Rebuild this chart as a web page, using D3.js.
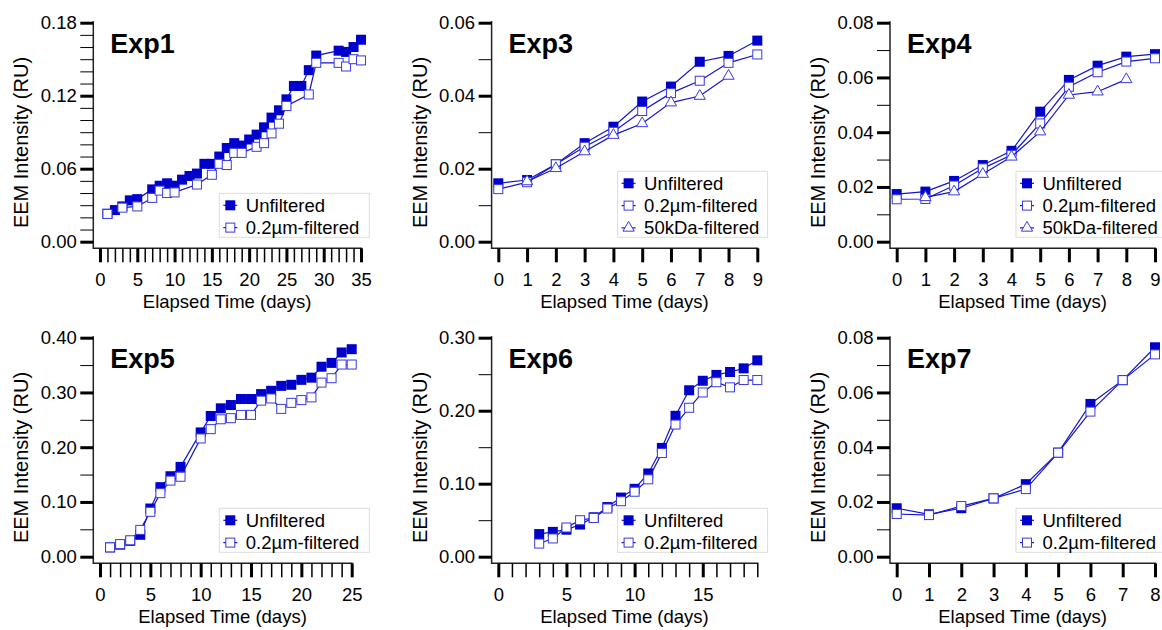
<!DOCTYPE html>
<html><head><meta charset="utf-8">
<script src="https://cdn.jsdelivr.net/npm/d3@7"></script>
<style>
body{margin:0;background:#fff}
svg text{font-family:"Liberation Sans",Arial,sans-serif;fill:#000}
</style></head><body>
<svg id="c" width="1162" height="630"></svg>
<script>
// ---------------- DATA ----------------
const exp1UnfDays = [1,2,3,4,5,7,8,9,10,11,12,13,14,15,16,17,18,19,20,21,22,23,24,25,26,27,28,29,32,33,34,35];
const exp1UnfVals = [0.023,0.026,0.029,0.034,0.035,0.043,0.046,0.048,0.046,0.051,0.054,0.056,0.064,0.064,0.070,0.077,0.081,0.079,0.084,0.088,0.094,0.102,0.108,0.117,0.128,0.128,0.141,0.153,0.157,0.156,0.160,0.166];
const exp1FilDays = [1,3,5,7,8,9,10,13,15,16,17,18,19,21,22,23,24,25,28,29,32,33,34,35];
const exp1FilVals = [0.0228,0.028,0.029,0.036,0.042,0.040,0.0405,0.047,0.055,0.064,0.063,0.073,0.073,0.078,0.081,0.089,0.097,0.1115,0.121,0.147,0.147,0.144,0.150,0.149];

const exp3Days = [0,1,2,3,4,5,6,7,8,9];
const exp3Unf = [0.016,0.0169,0.0212,0.027,0.0315,0.0384,0.0425,0.0493,0.0509,0.0551];
const exp3Fil = [0.0144,0.0163,0.0212,0.026,0.0301,0.0358,0.0407,0.0441,0.049,0.0513];
const exp3KdaDays = [1,2,3,4,5,6,7,8];
const exp3Kda = [0.0165,0.0201,0.0247,0.0292,0.0324,0.0381,0.0399,0.0454];

const exp4Days = [0,1,2,3,4,5,6,7,8,9];
const exp4Unf = [0.0174,0.0183,0.0222,0.028,0.0332,0.0475,0.0591,0.0643,0.0676,0.0685];
const exp4Fil = [0.0155,0.0156,0.0205,0.0268,0.0317,0.0432,0.0566,0.0619,0.0658,0.067];
const exp4KdaDays = [1,2,3,4,5,6,7,8];
const exp4Kda = [0.0162,0.0183,0.0247,0.031,0.0402,0.0536,0.0548,0.0593];

const exp5Days = [1,2,3,4,5,6,7,8,10,11,12,13,14,15,16,17,18,19,20,21,22,23,24,25];
const exp5Unf = [0.017,0.022,0.029,0.040,0.088,0.127,0.147,0.164,0.227,0.257,0.271,0.277,0.288,0.288,0.297,0.303,0.312,0.314,0.323,0.327,0.347,0.354,0.373,0.379];
const exp5Fil = [0.017,0.023,0.030,0.049,0.082,0.116,0.139,0.146,0.216,0.233,0.251,0.253,0.259,0.259,0.285,0.289,0.270,0.281,0.286,0.291,0.318,0.326,0.351,0.351];

const exp6Days = [3,4,5,6,7,8,9,10,11,12,13,14,15,16,17,18,19];
const exp6Unf = [0.031,0.034,0.037,0.044,0.054,0.068,0.081,0.093,0.114,0.149,0.193,0.228,0.241,0.249,0.253,0.258,0.269];
const exp6Fil = [0.018,0.025,0.040,0.050,0.053,0.066,0.076,0.089,0.106,0.142,0.181,0.204,0.225,0.239,0.232,0.242,0.242];

const exp7Days = [0,1,2,3,4,5,6,7,8];
const exp7Unf = [0.0177,0.0155,0.0177,0.0213,0.0265,0.038,0.0558,0.0645,0.0765];
const exp7Fil = [0.0156,0.0152,0.0185,0.0213,0.0247,0.038,0.053,0.0645,0.0739];

// tick labels
const exp1XTicks = [0,5,10,15,20,25,30,35];
const exp1YTicks = [0,0.06,0.12,0.18];
const exp3XTicks = [0,1,2,3,4,5,6,7,8,9];
const exp3YTicks = [0,0.02,0.04,0.06];
const exp4XTicks = [0,1,2,3,4,5,6,7,8,9];
const exp4YTicks = [0,0.02,0.04,0.06,0.08];
const exp5XTicks = [0,5,10,15,20,25];
const exp5YTicks = [0,0.10,0.20,0.30,0.40];
const exp6XTicks = [0,5,10,15];
const exp6YTicks = [0,0.10,0.20,0.30];
const exp7XTicks = [0,1,2,3,4,5,6,7,8];
const exp7YTicks = [0,0.02,0.04,0.06,0.08];

const titles = ["Exp1","Exp3","Exp4","Exp5","Exp6","Exp7"];
const seriesNames = ["Unfiltered","0.2\u00b5m-filtered","50kDa-filtered"];
const xLabel = "Elapsed Time (days)";
const yLabel = "EEM Intensity (RU)";

// ---------------- BUILD ----------------
const zip = (d, v) => d.map((x,i)=>({x, y:v[i]}));
const panels = [
  {title:titles[0], xMax:35, yMax:0.18, xTicks:exp1XTicks, yTicks:exp1YTicks, xMinor:1, yMinor:0.01,
   series:[{kind:0,data:zip(exp1UnfDays,exp1UnfVals)},{kind:1,data:zip(exp1FilDays,exp1FilVals)}]},
  {title:titles[1], xMax:9, yMax:0.06, xTicks:exp3XTicks, yTicks:exp3YTicks, xMinor:null, yMinor:0.01,
   series:[{kind:0,data:zip(exp3Days,exp3Unf)},{kind:1,data:zip(exp3Days,exp3Fil)},{kind:2,data:zip(exp3KdaDays,exp3Kda)}]},
  {title:titles[2], xMax:9, yMax:0.08, xTicks:exp4XTicks, yTicks:exp4YTicks, xMinor:null, yMinor:0.01,
   series:[{kind:0,data:zip(exp4Days,exp4Unf)},{kind:1,data:zip(exp4Days,exp4Fil)},{kind:2,data:zip(exp4KdaDays,exp4Kda)}]},
  {title:titles[3], xMax:25, yMax:0.40, xTicks:exp5XTicks, yTicks:exp5YTicks, xMinor:1, yMinor:0.05,
   series:[{kind:0,data:zip(exp5Days,exp5Unf)},{kind:1,data:zip(exp5Days,exp5Fil)}]},
  {title:titles[4], xMax:19, yMax:0.30, xTicks:exp6XTicks, yTicks:exp6YTicks, xMinor:1, yMinor:0.05,
   series:[{kind:0,data:zip(exp6Days,exp6Unf)},{kind:1,data:zip(exp6Days,exp6Fil)}]},
  {title:titles[5], xMax:8, yMax:0.08, xTicks:exp7XTicks, yTicks:exp7YTicks, xMinor:null, yMinor:0.01,
   series:[{kind:0,data:zip(exp7Days,exp7Unf)},{kind:1,data:zip(exp7Days,exp7Fil)}]}
];

// layout
const colX0 = [100, 498.3, 896.7];
const xEnds = [361, 757.3, 1155, 351.7, 757.3, 1155];
const rowY0 = [241.7, 556.7];
const plotH = 219;
const FILL = "#0000cc", LINE = "#1414cc", OPEN = "#3a3ae0";

const svg = d3.select("#c");

panels.forEach((p, i) => {
  const col = i % 3, row = Math.floor(i / 3);
  const x0 = colX0[col], y0 = rowY0[row];
  const x = d3.scaleLinear().domain([0, p.xMax]).range([x0, xEnds[i]]);
  const y = d3.scaleLinear().domain([0, p.yMax]).range([y0, y0 - plotH]);
  const axX = x0 - 6.7, axY = y0 + 6.6;
  const g = svg.append("g");

  // axis lines
  g.append("line").attr("x1", axX).attr("x2", axX).attr("y1", y(p.yMax) - 1.5).attr("y2", axY + 0.7)
    .attr("stroke", "#222").attr("stroke-width", 1.5);
  g.append("line").attr("x1", axX).attr("x2", xEnds[i] + 1).attr("y1", axY).attr("y2", axY)
    .attr("stroke", "#222").attr("stroke-width", 1.5);

  // y minor ticks
  const yMinorVals = d3.range(0, p.yMax + 1e-9, p.yMinor).filter(v => !p.yTicks.some(t => Math.abs(t - v) < 1e-9));
  const gyMin = g.append("g").attr("transform", `translate(${axX},0)`)
    .call(d3.axisLeft(y).tickValues(yMinorVals).tickSize(13).tickFormat(""));
  gyMin.select(".domain").remove();
  gyMin.selectAll(".tick line").attr("stroke", "#000").attr("stroke-width", 1);

  // y major ticks
  const gy = g.append("g").attr("transform", `translate(${axX},0)`)
    .call(d3.axisLeft(y).tickValues(p.yTicks).tickSize(13).tickPadding(3.5).tickFormat(d3.format(".2f")));
  gy.select(".domain").remove();
  gy.selectAll(".tick line").attr("stroke", "#000").attr("stroke-width", 3);
  gy.selectAll(".tick text").attr("font-size", 18.5).attr("fill", "#000");

  // x minor ticks
  if (p.xMinor) {
    const xMinorVals = d3.range(0, p.xMax + 1e-9, p.xMinor).filter(v => !p.xTicks.includes(v));
    const gxMin = g.append("g").attr("transform", `translate(0,${axY})`)
      .call(d3.axisBottom(x).tickValues(xMinorVals).tickSize(14).tickFormat(""));
    gxMin.select(".domain").remove();
    gxMin.selectAll(".tick line").attr("stroke", "#000").attr("stroke-width", 1.5);
  }
  const gx = g.append("g").attr("transform", `translate(0,${axY})`)
    .call(d3.axisBottom(x).tickValues(p.xTicks).tickSize(14).tickPadding(11).tickFormat(d3.format("d")));
  gx.select(".domain").remove();
  gx.selectAll(".tick line").attr("stroke", "#000").attr("stroke-width", 3);
  gx.selectAll(".tick text").attr("font-size", 18.5).attr("fill", "#000");

  // axis titles
  g.append("text").attr("x", (axX + xEnds[i]) / 2).attr("y", axY + 60)
    .attr("text-anchor", "middle").attr("font-size", 18.5).text(xLabel);
  g.append("text").attr("transform", `translate(${axX - 65},${(y(p.yMax) + axY) / 2 + 7}) rotate(-90)`)
    .attr("text-anchor", "middle").attr("font-size", 20).text(yLabel);

  // panel title
  g.append("text").attr("x", axX + 17).attr("y", y0 - 188.5)
    .attr("font-size", 27).attr("font-weight", "bold").text(p.title);

  // series
  const line = d3.line().x(d => x(d.x)).y(d => y(d.y));
  const tri = d3.symbol().type(d3.symbolTriangle).size(55);
  p.series.forEach(s => {
    g.append("path").attr("d", line(s.data)).attr("fill", "none").attr("stroke", LINE).attr("stroke-width", 1.2);
    drawMarkers(g, s.kind, s.data.map(d => [x(d.x), y(d.y)]));
  });

  // legend
  const n = p.series.length;
  const lx = axX + 126, lyBottom = axY - 11;
  const lTop = lyBottom - (n === 2 ? 44 : 66);
  g.append("rect").attr("x", lx).attr("y", lTop).attr("width", 150).attr("height", lyBottom - lTop)
    .attr("fill", "#fff").attr("stroke", "#dcdcdc").attr("stroke-width", 1);
  p.series.forEach((s, k) => {
    const cy = lTop + 12 + k * 22.3, cx = lx + 11;
    g.append("line").attr("x1", cx - 7).attr("x2", cx + 7).attr("y1", cy).attr("y2", cy)
      .attr("stroke", LINE).attr("stroke-width", 1.2);
    drawMarkers(g, s.kind, [[cx, cy]]);
    g.append("text").attr("x", cx + 15.5).attr("y", cy + 6.5).attr("font-size", 18.5).text(seriesNames[s.kind]);
  });

  function drawMarkers(gg, kind, pts) {
    if (kind === 0) {
      gg.selectAll(null).data(pts).enter().append("rect")
        .attr("x", d => d[0] - 5).attr("y", d => d[1] - 5).attr("width", 10).attr("height", 10)
        .attr("fill", FILL);
    } else if (kind === 1) {
      gg.selectAll(null).data(pts).enter().append("rect")
        .attr("x", d => d[0] - 4.5).attr("y", d => d[1] - 4.5).attr("width", 9).attr("height", 9)
        .attr("fill", "#fff").attr("stroke", OPEN).attr("stroke-width", 1);
    } else {
      gg.selectAll(null).data(pts).enter().append("path")
        .attr("transform", d => `translate(${d[0]},${d[1]})`).attr("d", tri)
        .attr("fill", "#fff").attr("stroke", OPEN).attr("stroke-width", 1);
    }
  }
});
</script>
</body></html>
